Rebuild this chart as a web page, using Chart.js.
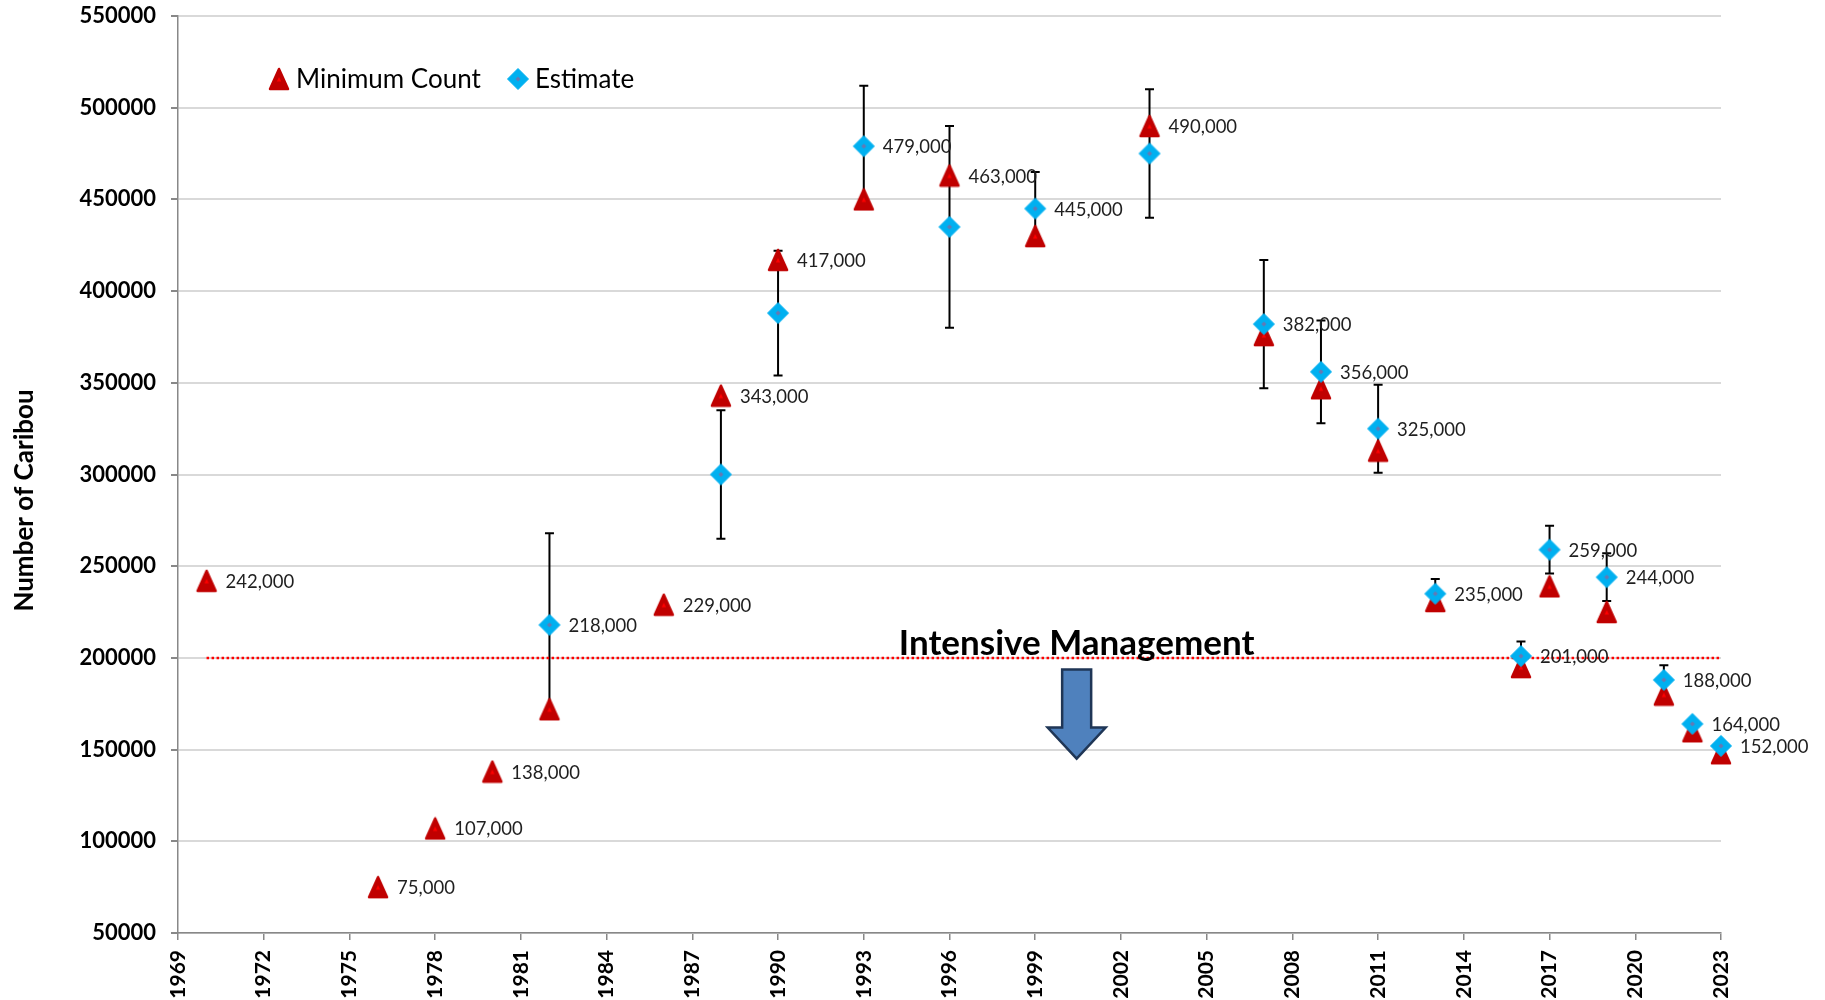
<!DOCTYPE html>
<html>
<head>
<meta charset="utf-8">
<title>Number of Caribou</title>
<script src="https://cdn.jsdelivr.net/npm/chart.js@4.4.1/dist/chart.umd.min.js"></script>
<style>
  html, body { margin: 0; padding: 0; background: #fff; }
  #wrap { width: 1825px; height: 1000px; position: relative; }
</style>
</head>
<body>
<div id="wrap"><canvas id="chart"></canvas></div>
<script>
// ── DATA ──────────────────────────────────
// Minimum count (red triangles)
const countYears  = [1970, 1976, 1978, 1980, 1982, 1986, 1988, 1990, 1993, 1996, 1999,
                     2003, 2007, 2009, 2011, 2013, 2016, 2017, 2019, 2021, 2022, 2023];
const countValues = [242000, 75000, 107000, 138000, 172000, 229000, 343000, 417000, 450000, 463000, 430000,
                     490000, 376000, 347000, 313000, 231000, 195000, 239000, 225000, 180000, 160000, 148000];

// Estimate (blue diamonds) with error range
const estYears  = [1982, 1988, 1990, 1993, 1996, 1999, 2003, 2007, 2009, 2011, 2013, 2016, 2017, 2019, 2021, 2022, 2023];
const estValues = [218000, 300000, 388000, 479000, 435000, 445000, 475000, 382000, 356000, 325000,
                   235000, 201000, 259000, 244000, 188000, 164000, 152000];
const estLow    = [168000, 265000, 354000, 446000, 380000, 425000, 440000, 347000, 328000, 301000,
                   227000, 193000, 246000, 231000, 180000, null, null];
const estHigh   = [268000, 335000, 422000, 512000, 490000, 465000, 510000, 417000, 384000, 349000,
                   243000, 209000, 272000, 257000, 196000, null, null];

// Printed value labels
const labelYears  = [1970, 1976, 1978, 1980, 1982, 1986, 1988, 1990, 1993, 1996, 1999,
                     2003, 2007, 2009, 2011, 2013, 2016, 2017, 2019, 2021, 2022, 2023];
const labelValues = [242000, 75000, 107000, 138000, 218000, 229000, 343000, 417000, 479000, 463000, 445000,
                     490000, 382000, 356000, 325000, 235000, 201000, 259000, 244000, 188000, 164000, 152000];

// Axes
const xTicks = [1969, 1972, 1975, 1978, 1981, 1984, 1987, 1990, 1993, 1996,
                1999, 2002, 2005, 2008, 2011, 2014, 2017, 2020, 2023];
const yMin = 50000, yMax = 550000, yStep = 50000;

// Intensive management threshold + annotation
const thresholdYears = [1970, 2023];
const thresholdValue = 200000;
const noteText = 'Intensive Management';
const noteYear = 2000.45;
const arrowTop = 193700, arrowHeadTop = 162000, arrowTip = 145100;

// ── MARKERS ───────────────────────────────
function makeTriangle(size) {
  const c = document.createElement('canvas');
  c.width = size; c.height = size;
  const g = c.getContext('2d');
  const m = size / 2;
  g.lineJoin = 'round';
  g.lineWidth = 2.5;
  g.fillStyle = g.strokeStyle = '#C00000';
  g.beginPath();
  g.moveTo(m, 2); g.lineTo(size - 3, size - 2); g.lineTo(3, size - 2); g.closePath();
  g.fill(); g.stroke();
  g.fillStyle = '#FF0000';
  g.beginPath();
  g.moveTo(m, m - 2); g.lineTo(m + 2.2, m + 2.5); g.lineTo(m - 2.2, m + 2.5); g.closePath();
  g.fill();
  return c;
}

function makeDiamond(size) {
  const c = document.createElement('canvas');
  c.width = size; c.height = size;
  const g = c.getContext('2d');
  const m = size / 2, r = m - 1.5;
  g.lineJoin = 'round';
  g.lineWidth = 1;
  g.fillStyle = g.strokeStyle = '#00B0F0';
  g.beginPath();
  g.moveTo(m, m - r); g.lineTo(m + r, m); g.lineTo(m, m + r); g.lineTo(m - r, m); g.closePath();
  g.fill(); g.stroke();
  g.fillStyle = '#6479B4';
  g.beginPath();
  g.moveTo(m, m - 2.5); g.lineTo(m + 2.5, m); g.lineTo(m, m + 2.5); g.lineTo(m - 2.5, m); g.closePath();
  g.fill();
  return c;
}

const triangleImg = makeTriangle(24);
const diamondImg = makeDiamond(24);

// ── OVERLAY PLUGIN ────────────────────────
const overlay = {
  id: 'overlay',

  // error bars go under the markers
  beforeDatasetsDraw(chart) {
    const { ctx, scales: { x, y } } = chart;
    ctx.save();
    ctx.strokeStyle = '#000';
    ctx.lineWidth = 2;
    estYears.forEach((yr, i) => {
      if (estLow[i] == null) return;
      const px = x.getPixelForValue(yr);
      const lo = y.getPixelForValue(estLow[i]);
      const hi = y.getPixelForValue(estHigh[i]);
      ctx.beginPath();
      ctx.moveTo(px, lo); ctx.lineTo(px, hi);
      ctx.moveTo(px - 4.5, lo); ctx.lineTo(px + 4.5, lo);
      ctx.moveTo(px - 4.5, hi); ctx.lineTo(px + 4.5, hi);
      ctx.stroke();
    });
    ctx.restore();
  },

  afterDatasetsDraw(chart) {
    const { ctx, chartArea, scales: { x, y } } = chart;
    ctx.save();

    // value labels
    ctx.font = '18.5px Lato';
    ctx.fillStyle = '#1F1F1F';
    ctx.textAlign = 'left';
    ctx.textBaseline = 'middle';
    labelYears.forEach((yr, i) => {
      ctx.fillText(labelValues[i].toLocaleString('en-US'),
        x.getPixelForValue(yr) + 19, y.getPixelForValue(labelValues[i]) + 1);
    });

    // arrow
    const ax = x.getPixelForValue(noteYear);
    const top = y.getPixelForValue(arrowTop);
    const headTop = y.getPixelForValue(arrowHeadTop);
    const tip = y.getPixelForValue(arrowTip);
    ctx.beginPath();
    ctx.moveTo(ax - 14.5, top);
    ctx.lineTo(ax + 14.5, top);
    ctx.lineTo(ax + 14.5, headTop);
    ctx.lineTo(ax + 29, headTop);
    ctx.lineTo(ax, tip);
    ctx.lineTo(ax - 29, headTop);
    ctx.lineTo(ax - 14.5, headTop);
    ctx.closePath();
    ctx.fillStyle = '#4F81BD';
    ctx.fill();
    ctx.lineWidth = 2.5;
    ctx.lineJoin = 'miter';
    ctx.strokeStyle = '#1F3656';
    ctx.stroke();

    // note text
    ctx.font = 'bold 35px Lato';
    ctx.fillStyle = '#000';
    ctx.textAlign = 'center';
    ctx.textBaseline = 'alphabetic';
    ctx.fillText(noteText, ax, y.getPixelForValue(thresholdValue) - 3);

    // legend
    const lx = chartArea.left + 101, ly = chartArea.top + 63;
    ctx.font = '26px Lato';
    ctx.textAlign = 'left';
    ctx.textBaseline = 'middle';
    ctx.drawImage(triangleImg, lx - 12, ly - 12);
    ctx.fillText('Minimum Count', lx + 17, ly + 1);
    ctx.drawImage(diamondImg, lx + 227, ly - 12);
    ctx.fillText('Estimate', lx + 256, ly + 1);

    ctx.restore();
  },

  afterDraw(chart) {
    const { ctx, chartArea } = chart;
    ctx.save();
    ctx.translate(33, (chartArea.top + chartArea.bottom) / 2 + 26);
    ctx.rotate(-Math.PI / 2);
    ctx.font = 'bold 26px Lato';
    ctx.fillStyle = '#000';
    ctx.textAlign = 'center';
    ctx.textBaseline = 'alphabetic';
    ctx.fillText('Number of Caribou', 0, 0);
    ctx.restore();
  }
};

// ── CHART ─────────────────────────────────
function buildChart() {
  Chart.defaults.font.family = 'Lato';

  new Chart(document.getElementById('chart'), {
    type: 'scatter',
    data: {
      datasets: [
        {
          label: 'Estimate',
          data: estYears.map((yr, i) => ({ x: yr, y: estValues[i] })),
          pointStyle: diamondImg,
          pointRadius: 11,
          order: 0,
          clip: false
        },
        {
          label: 'Minimum Count',
          data: countYears.map((yr, i) => ({ x: yr, y: countValues[i] })),
          pointStyle: triangleImg,
          pointRadius: 11,
          order: 1,
          clip: false
        },
        {
          label: 'threshold',
          data: thresholdYears.map(yr => ({ x: yr, y: thresholdValue })),
          showLine: true,
          borderColor: '#FF0000',
          borderWidth: 2.5,
          borderDash: [2.5, 2.5],
          pointRadius: 0,
          order: 2,
          clip: false
        }
      ]
    },
    options: {
      responsive: true,
      maintainAspectRatio: false,
      animation: false,
      events: [],
      layout: { padding: { left: 0, right: 104, top: 16, bottom: 0 } },
      plugins: { legend: { display: false }, tooltip: { enabled: false } },
      scales: {
        x: {
          type: 'linear',
          min: xTicks[0],
          max: xTicks[xTicks.length - 1],
          afterBuildTicks: s => { s.ticks = xTicks.map(v => ({ value: v })); },
          afterFit: s => { s.height = 67; },
          ticks: {
            autoSkip: false,
            minRotation: 90,
            maxRotation: 90,
            padding: 10,
            color: '#000',
            font: { size: 21, weight: 'bold' },
            callback: v => String(v)
          },
          grid: { drawOnChartArea: false, tickLength: 7, tickColor: '#888', lineWidth: 1.5 },
          border: { color: '#888', width: 1.5 }
        },
        y: {
          min: yMin,
          max: yMax,
          // fixed width, and no extra room reserved above the top label
          afterFit: s => { s.width = 178; s.paddingTop = 0; s.paddingBottom = 0; },
          ticks: {
            stepSize: yStep,
            padding: 15,
            color: '#000',
            font: { size: 22, weight: 'bold' },
            callback: v => String(v)
          },
          grid: { color: '#D9D9D9', lineWidth: 2, tickLength: 7, tickColor: '#888' },
          border: { color: '#888', width: 1.5 }
        }
      }
    },
    plugins: [overlay]
  });
}

Promise.all([
  document.fonts.load('18px Lato'),
  document.fonts.load('bold 21px Lato')
]).then(buildChart, buildChart);
</script>
</body>
</html>
